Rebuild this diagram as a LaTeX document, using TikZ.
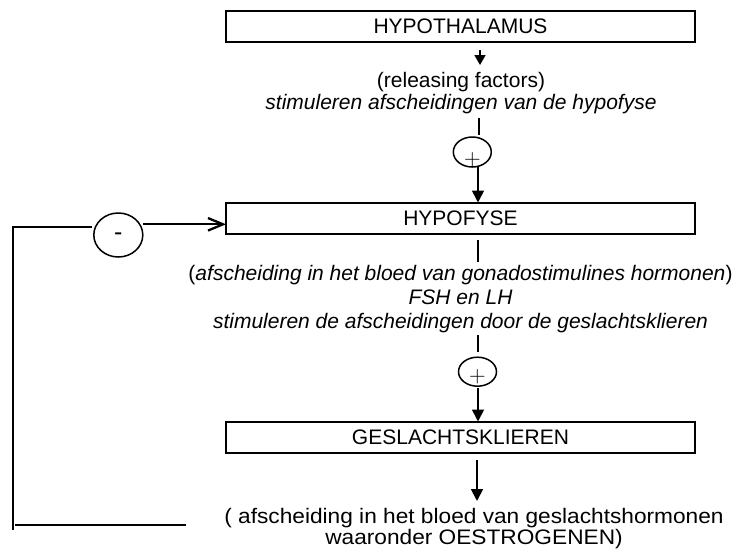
\documentclass[tikz,border=0pt]{standalone}
\usepackage{fontspec}
\setsansfont{Liberation Sans}
\usetikzlibrary{arrows.meta,shapes.geometric}
\begin{document}
\begin{tikzpicture}[x=1pt,y=-1pt,
  every node/.style={inner sep=0pt, outer sep=0pt},
  box/.style={draw, line width=2pt, minimum width=469pt, minimum height=31pt,
    font=\sffamily\fontsize{21}{24}\selectfont},
  txt/.style={anchor=base, font=\sffamily\fontsize{21}{24}\selectfont},
  conn/.style={line width=1.7pt},
  arr/.style={conn, -{Triangle[length=12pt,width=12pt]}},
  sign/.style={draw, ellipse, line width=1.5pt},
  plussign/.style={font=\rmfamily\fontsize{23}{23}\selectfont},
  fb/.style={line width=2.3pt}
]
\useasboundingbox (0,0) rectangle (736,549);

% boxes
\node[box] (hyth) at (460.5,26.3) {HYPOTHALAMUS};
\node[box] (hyfy) at (460.5,218.5) {HYPOFYSE};
\node[box] (gesl) at (460.5,437.5) {GESLACHTSKLIEREN};

% top block
\coordinate (a1s) at (480,50);
\coordinate (a1e) at (480,65);
\draw[conn, -{Triangle[length=10pt,width=11pt]}] (a1s) -- (a1e);
\node[txt] (rel) at (461,87.5) {(releasing factors)};
\node[txt] (stim1) at (461,109.5) {\itshape stimuleren afscheidingen van de hypofyse};
\coordinate (l1a) at (479,118);
\coordinate (l1b) at (479,135);
\draw[conn] (l1a) -- (l1b);
\node[sign, minimum width=38pt, minimum height=30pt] (e1) at (472.3,152) {};
\node[plussign] (p1) at (472.3,159.5) {+};
\coordinate (a2s) at (478,167);
\coordinate (a2e) at (478,202.5);
\draw[arr] (a2s) -- (a2e);

% middle block
\coordinate (l2a) at (478,240);
\coordinate (l2b) at (478,262);
\draw[conn] (l2a) -- (l2b);
\node[txt] (gon) at (460.5,280) {(\textit{afscheiding in het bloed van gonadostimulines hormonen})};
\node[txt] (fsh) at (460.5,304) {\itshape FSH en LH};
\node[txt] (stim2) at (460.5,328) {\itshape stimuleren de afscheidingen door de geslachtsklieren};
\coordinate (l3a) at (478,335);
\coordinate (l3b) at (478,352);
\draw[conn] (l3a) -- (l3b);
\node[sign, minimum width=38pt, minimum height=29pt] (e2) at (477.5,371.7) {};
\node[plussign] (p2) at (477.5,377) {+};
\coordinate (a3s) at (478,388);
\coordinate (a3e) at (478,421.5);
\draw[arr] (a3s) -- (a3e);

% bottom block
\coordinate (a4s) at (477,460);
\coordinate (a4e) at (477,501);
\draw[arr] (a4s) -- (a4e);
\node[txt] (out1) at (474,523) {\scalebox{1.08}[1]{( afscheiding in het bloed van geslachtshormonen}};
\node[txt] (out2) at (474,544) {\scalebox{1.08}[1]{waaronder OESTROGENEN)}};

% feedback loop
\coordinate (fbtop) at (13.3,226.7);
\coordinate (fbbot) at (13.3,530);
\coordinate (fbbl) at (15,525);
\coordinate (fbbr) at (186,525);
\coordinate (fbin) at (92,226.7);
\draw[fb] (fbbot) -- (fbtop) -- (fbin);
\draw[fb] (fbbl) -- (fbbr);
\node[sign, minimum width=49pt, minimum height=44pt] (e3) at (118.3,235) {};
\node[font=\sffamily\fontsize{25}{25}\selectfont] (minus) at (118.3,236.7) {-};
\coordinate (a5s) at (142.7,224.3);
\coordinate (a5e) at (hyfy.west |- a5s);
\draw[fb, -{Straight Barb[length=15pt,width=12.5pt]}] (a5s) -- (a5e);
\end{tikzpicture}
\end{document}
